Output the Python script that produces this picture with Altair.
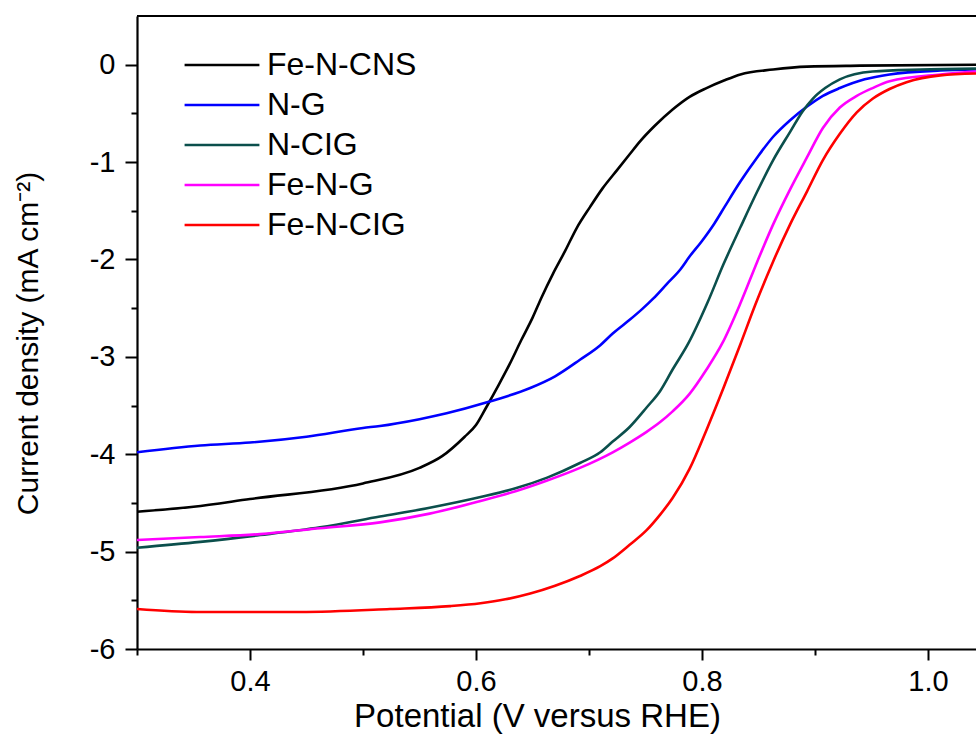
import altair as alt
import pandas as pd

series_names = ["Fe-N-CNS", "N-G", "N-CIG", "Fe-N-G", "Fe-N-CIG"]
series_colors = ["#000000", "#0000ff", "#0b4f4c", "#ff00ff", "#ff0000"]

cns_v = [0.300, 0.350, 0.400, 0.500, 0.550, 0.570, 0.590, 0.600, 0.609, 0.620, 0.630, 0.640, 0.650,
         0.658, 0.668, 0.679, 0.689, 0.701, 0.712, 0.725, 0.736, 0.745, 0.758, 0.774, 0.789, 0.804,
         0.820, 0.834, 0.863, 0.893, 0.940, 1.0425]
cns_j = [-4.59, -4.54, -4.46, -4.30, -4.14, -4.02, -3.82, -3.70, -3.52, -3.29, -3.07, -2.83, -2.60,
         -2.39, -2.15, -1.91, -1.68, -1.46, -1.27, -1.08, -0.92, -0.79, -0.63, -0.46, -0.33, -0.24,
         -0.16, -0.10, -0.05, -0.02, -0.01, 0.0]

ng_v = [0.300, 0.356, 0.400, 0.450, 0.500, 0.515, 0.550, 0.574, 0.609, 0.648, 0.670, 0.692, 0.710,
        0.721, 0.736, 0.747, 0.757, 0.769, 0.781, 0.789, 0.800, 0.811, 0.820, 0.834, 0.849, 0.863,
        0.878, 0.893, 0.907, 0.922, 0.944, 0.966, 1.011, 1.0425]
ng_j = [-3.98, -3.91, -3.88, -3.82, -3.73, -3.71, -3.64, -3.58, -3.47, -3.32, -3.20, -3.03, -2.88,
        -2.76, -2.62, -2.51, -2.40, -2.25, -2.10, -1.97, -1.81, -1.63, -1.46, -1.20, -0.95, -0.74,
        -0.57, -0.43, -0.32, -0.24, -0.15, -0.10, -0.06, -0.05]

ncig_v = [0.300, 0.356, 0.409, 0.462, 0.515, 0.559, 0.604, 0.635, 0.663, 0.692, 0.710, 0.721, 0.736,
          0.751, 0.763, 0.774, 0.788, 0.805, 0.819, 0.834, 0.849, 0.863, 0.878, 0.889, 0.898, 0.909,
          0.922, 0.951, 0.993, 1.0425]
ncig_j = [-4.96, -4.90, -4.83, -4.75, -4.64, -4.55, -4.44, -4.35, -4.24, -4.09, -3.98, -3.87, -3.72,
          -3.52, -3.35, -3.13, -2.86, -2.44, -2.05, -1.67, -1.30, -0.98, -0.69, -0.48, -0.35, -0.24,
          -0.15, -0.07, -0.05, -0.04]

feng_v = [0.300, 0.356, 0.409, 0.462, 0.515, 0.559, 0.604, 0.635, 0.663, 0.692, 0.721, 0.736, 0.751,
          0.763, 0.774, 0.789, 0.804, 0.818, 0.834, 0.849, 0.863, 0.878, 0.893, 0.907, 0.922, 0.937,
          0.951, 0.966, 1.011, 1.0425]
feng_j = [-4.88, -4.85, -4.82, -4.76, -4.70, -4.61, -4.48, -4.38, -4.27, -4.14, -3.98, -3.88, -3.77,
          -3.67, -3.56, -3.38, -3.13, -2.86, -2.45, -2.02, -1.64, -1.28, -0.95, -0.65, -0.44, -0.32,
          -0.24, -0.17, -0.10, -0.07]

fencig_v = [0.300, 0.353, 0.444, 0.524, 0.577, 0.604, 0.626, 0.648, 0.670, 0.692, 0.710, 0.721, 0.736,
            0.751, 0.763, 0.774, 0.789, 0.804, 0.819, 0.834, 0.847, 0.863, 0.878, 0.893, 0.907, 0.922,
            0.937, 0.951, 0.966, 0.981, 1.011, 1.0425]
fencig_j = [-5.59, -5.62, -5.62, -5.59, -5.56, -5.53, -5.49, -5.43, -5.35, -5.25, -5.15, -5.07, -4.93,
            -4.78, -4.62, -4.45, -4.15, -3.75, -3.32, -2.87, -2.47, -2.02, -1.64, -1.30, -0.98, -0.71,
            -0.49, -0.35, -0.25, -0.18, -0.11, -0.09]

x_ticks = [0.3, 0.4, 0.5, 0.6, 0.7, 0.8, 0.9, 1.0]
y_ticks = [-6, -5.5, -5, -4.5, -4, -3.5, -3, -2.5, -2, -1.5, -1, -0.5, 0]

rows = []
for name, vs, js in [("Fe-N-CNS", cns_v, cns_j), ("N-G", ng_v, ng_j), ("N-CIG", ncig_v, ncig_j),
                     ("Fe-N-G", feng_v, feng_j), ("Fe-N-CIG", fencig_v, fencig_j)]:
    for v, j in zip(vs, js):
        rows.append({"series": name, "V": v, "j": j})
df = pd.DataFrame(rows)

FONT = "Liberation Sans"
X_MIN, X_MAX = 0.3, 1.0425
Y_MIN, Y_MAX = -6, 0.5

xscale = alt.Scale(domain=[X_MIN, X_MAX], nice=False, zero=False)
yscale = alt.Scale(domain=[Y_MIN, Y_MAX], nice=False, zero=False)

lines = alt.Chart(df).mark_line(strokeWidth=2.6, interpolate="monotone").encode(
    x=alt.X("V:Q", scale=xscale,
            axis=alt.Axis(values=x_ticks, title="Potential (V versus RHE)",
                          labelExpr="round(datum.value*10) % 2 == 0 ? format(datum.value, '.1f') : ''",
                          tickSize={"condition": {"test": "round(datum.value*10) % 2 == 0", "value": 11}, "value": 6},
                          grid=False, domainColor="black", domainWidth=2.2, tickColor="black", tickWidth=2,
                          labelFont=FONT, labelFontSize=29, labelColor="black", labelPadding=7,
                          titleFont=FONT, titleFontSize=33, titleFontWeight="normal", titleColor="black",
                          titleX=400, titleY=67, titleBaseline="middle", titleAlign="center")),
    y=alt.Y("j:Q", scale=yscale,
            axis=alt.Axis(values=y_ticks, title="Current density (mA cm\u207b\u00b2)",
                          labelExpr="datum.value % 1 == 0 ? toString(datum.value) : ''",
                          tickSize={"condition": {"test": "datum.value % 1 == 0", "value": 12}, "value": 6},
                          grid=False, domainColor="black", domainWidth=2.2, tickColor="black", tickWidth=2,
                          labelFont=FONT, labelFontSize=29, labelColor="black", labelPadding=10,
                          titleFont=FONT, titleFontSize=30, titleFontWeight="normal", titleColor="black",
                          titleX=-109, titleY=327, titleAngle=-90, titleBaseline="middle", titleAlign="center")),
    color=alt.Color("series:N", scale=alt.Scale(domain=series_names, range=series_colors),
                    sort=series_names,
                    legend=alt.Legend(title=None, orient="none", legendX=46, legendY=32,
                                      symbolType="stroke", symbolSize=5600, symbolStrokeWidth=2.6,
                                      clipHeight=34, labelFont=FONT, labelFontSize=32, labelColor="black",
                                      labelOffset=6, rowPadding=6, padding=0)),
)

top_border = alt.Chart(pd.DataFrame({"y": [Y_MAX]})).mark_rule(color="black", strokeWidth=2.2).encode(
    y=alt.Y("y:Q", scale=yscale)
)

chart = alt.layer(lines, top_border).properties(
    width=839, height=633,
    autosize=alt.AutoSizeParams(type="none"),
    padding={"left": 137, "top": 16, "right": 0, "bottom": 107},
    background="white",
).configure_view(stroke=None)

chart.save("out.html", embed_options={"renderer": "svg", "actions": False})
